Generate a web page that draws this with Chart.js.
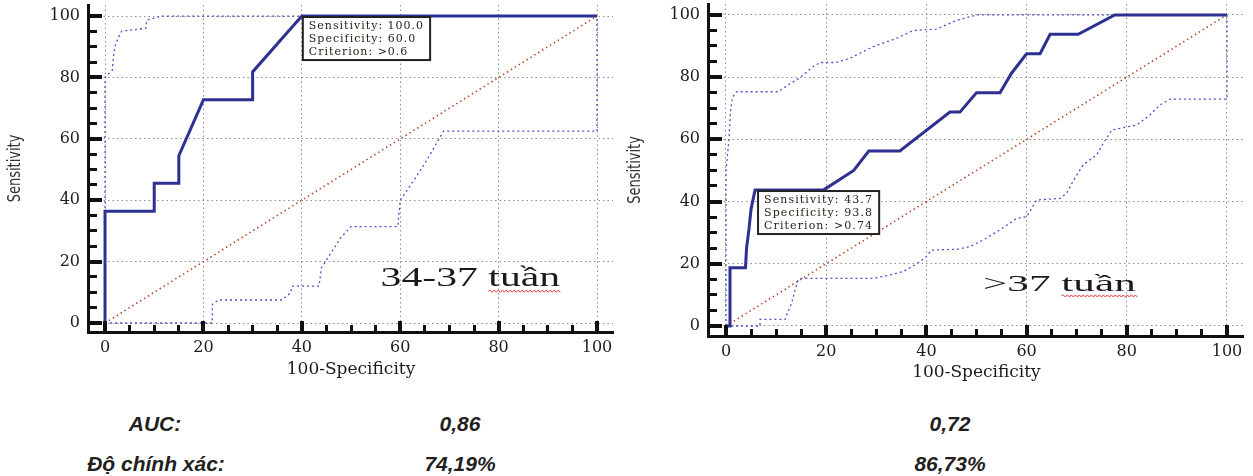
<!DOCTYPE html>
<html><head><meta charset="utf-8">
<script src="https://cdn.jsdelivr.net/npm/chart.js@4.4.1/dist/chart.umd.min.js"></script>
<style>
html,body{margin:0;padding:0;background:#fff;width:1253px;height:476px;overflow:hidden;}
canvas{position:absolute;top:0;}
#cA{left:0;}
#cB{left:620px;}
.t{position:absolute;font-family:"Liberation Sans",Arial,sans-serif;font-weight:bold;font-style:italic;font-size:21px;color:#231f20;transform:translateX(-50%);white-space:nowrap;line-height:20px;}
</style></head><body>
<canvas id="cA" width="620" height="390"></canvas>
<canvas id="cB" width="633" height="390"></canvas>
<div class="t" style="left:155px;top:414px">AUC:</div>
<div class="t" style="left:460px;top:414px">0,86</div>
<div class="t" style="left:950px;top:414px">0,72</div>
<div class="t" style="left:156px;top:454px">Độ chính xác:</div>
<div class="t" style="left:460px;top:454px">74,19%</div>
<div class="t" style="left:950px;top:454px">86,73%</div>
<script>
// ---------- shared axis data ----------
const X_TICKS = [0, 20, 40, 60, 80, 100];
const Y_TICKS = [0, 20, 40, 60, 80, 100];
const MINOR_TICKS = [5, 10, 15, 25, 30, 35, 45, 50, 55, 65, 70, 75, 85, 90, 95];
const X_TITLE = '100-Specificity';
const Y_TITLE = 'Sensitivity';
const diagX = [0, 100];
const diagY = [0, 100];

// ---------- panel A: 34-37 tuần ----------
const rocA_x = [0, 0, 10, 10, 15, 15, 20, 30, 30, 40, 100];
const rocA_y = [0, 36.4, 36.4, 45.5, 45.5, 54.5, 72.7, 72.7, 81.8, 100, 100];
const upA_x = [0, 0, 1.5, 1.6, 2.0, 2.7, 3.4, 8.3, 8.5, 11.5, 100];
const upA_y = [0, 80, 82.4, 84.9, 90, 93, 95.1, 96, 98.7, 100, 100];
const loA_x = [0, 21.8, 21.8, 23, 36, 37.7, 38, 43.5, 44, 45, 48, 50, 59.5, 60, 63, 65.4, 68.8, 100, 100];
const loA_y = [0, 0, 6, 7.5, 7.5, 9.8, 12, 12, 18, 20.5, 28, 31.4, 31.4, 40, 47, 53, 62.5, 62.5, 100];
const sensA = '100.0', specA = '60.0', critA = '>0.6';
const labelA = '34-37 tuần';

// ---------- panel B: >37 tuần ----------
const rocB_x = [0, 0.8, 0.8, 3.9, 4.1, 4.6, 5.0, 5.8, 19.5, 25.5, 28.5, 34.7, 44.7, 46.7, 50, 54.7, 57, 60, 62.7, 64.7, 70.3, 77.6, 100];
const rocB_y = [0, 0, 18.75, 18.75, 25, 31.25, 37.5, 43.75, 43.75, 50, 56.25, 56.25, 68.75, 68.75, 75, 75, 81.25, 87.5, 87.5, 93.75, 93.75, 100, 100];
const upB_x = [0, 0, 0.6, 0.9, 1.3, 2.1, 10.5, 11.1, 12.4, 14.6, 17.4, 18.8, 22, 24.8, 29.4, 34.1, 37.4, 42, 46, 50, 100];
const upB_y = [0, 50, 60, 69, 73.5, 75.3, 75.3, 76, 77.5, 79.6, 83.4, 84.7, 84.7, 86.1, 89.8, 92.5, 95, 95.4, 98.2, 100, 100];
const loB_x = [0, 6.8, 6.8, 11.8, 12.1, 13.1, 13.8, 14.4, 15, 29.4, 32.7, 35.4, 37.7, 39.7, 41, 46.4, 48.7, 51.4, 54.7, 58, 60, 62, 66.7, 68, 69.4, 71.3, 74, 75.3, 77, 82, 84.6, 86.6, 88.6, 100, 100];
const loB_y = [0, 0, 2.1, 2.1, 3.5, 7.3, 11.6, 14.8, 15.3, 15.3, 16.4, 17.5, 19.6, 21.8, 24.4, 24.7, 25.5, 27.7, 30.9, 34.6, 35.1, 40.5, 41, 42.7, 46.9, 51.8, 55, 58.7, 63, 64.6, 67.8, 71, 72.9, 72.9, 100];
const sensB = '43.7', specB = '93.8', critB = '>0.74';
const labelB = '>37 tuần';

function pts(xs, ys) { return xs.map((x, i) => ({ x: x, y: ys[i] })); }

const decor = {
  id: 'decor',
  afterDraw(chart, args, o) {
    const ctx = chart.ctx;
    const ca = chart.chartArea;
    const xs = chart.scales.x, ys = chart.scales.y;
    ctx.save();
    // inward tick marks: major and minor
    ctx.fillStyle = '#111';
    const tick = (v, major) => {
      const th = major ? 4 : 3;
      const lx = major ? 11 : 7, ly = major ? 14 : 9;
      ctx.fillRect(Math.round(xs.getPixelForValue(v) - th / 2), ca.bottom - lx, th, lx);
      ctx.fillRect(ca.left, Math.round(ys.getPixelForValue(v) - th / 2), ly, th);
    };
    X_TICKS.forEach(v => tick(v, true));
    MINOR_TICKS.forEach(v => tick(v, false));
    // axis titles
    ctx.fillStyle = '#1c1c1c';
    ctx.font = '17px "DejaVu Serif", serif';
    ctx.textAlign = 'center'; ctx.textBaseline = 'middle';
    ctx.fillText(X_TITLE, xs.getPixelForValue(50), ca.bottom + o.xTitleOff);
    ctx.save();
    ctx.translate(16, (ca.top + ca.bottom) / 2);
    ctx.rotate(-Math.PI / 2);
    ctx.font = '17px "Liberation Sans Narrow", "DejaVu Sans Condensed", "Liberation Sans", sans-serif';
    ctx.fillStyle = '#333';
    ctx.scale(0.85, 1);
    ctx.fillText(Y_TITLE, 0, 0);
    ctx.restore();
    // criterion box anchored at (100-specificity, sensitivity)
    const lines = ['Sensitivity: ' + o.sens, 'Specificity: ' + o.spec, 'Criterion: ' + o.crit];
    const bx = xs.getPixelForValue(100 - parseFloat(o.spec)) + 1;
    const by = ys.getPixelForValue(parseFloat(o.sens)) + 1;
    ctx.font = '11px "DejaVu Serif", serif';
    ctx.letterSpacing = o.boxSpacing + 'px';
    let w = 0;
    lines.forEach(l => { w = Math.max(w, ctx.measureText(l).width); });
    const bw = w + 12, bh = 43;
    ctx.fillStyle = '#fff';
    ctx.fillRect(bx, by, bw, bh);
    ctx.lineWidth = 2; ctx.strokeStyle = '#222';
    ctx.strokeRect(bx, by, bw, bh);
    ctx.fillStyle = '#2b2219';
    ctx.textAlign = 'left'; ctx.textBaseline = 'alphabetic';
    lines.forEach((l, i) => ctx.fillText(l, bx + 6, by + 12 + i * 13));
    ctx.letterSpacing = '0px';
    // big group label, stretched horizontally
    const lx = xs.getPixelForValue(o.labelAt[0]);
    const ly = ys.getPixelForValue(o.labelAt[1]);
    ctx.font = o.labelSize + 'px "Liberation Serif", "Times New Roman", serif';
    ctx.fillStyle = '#1a1a1a';
    const word = 'tuần';
    const prefix = o.label.slice(0, o.label.indexOf(word));
    const pw = ctx.measureText(prefix).width * o.labelScale;
    const ww = ctx.measureText(word).width * o.labelScale;
    ctx.save();
    ctx.translate(lx, ly);
    ctx.scale(o.labelScale, 1);
    ctx.fillText(o.label, 0, 0);
    ctx.restore();
    // spell-check squiggle
    ctx.strokeStyle = '#e23b3b'; ctx.lineWidth = 1;
    ctx.beginPath();
    const sy = ly + 5;
    let up = true;
    ctx.moveTo(lx + pw, sy);
    for (let x = lx + pw; x < lx + pw + ww; x += 2) { ctx.lineTo(x + 2, sy + (up ? -1.1 : 1.1)); up = !up; }
    ctx.stroke();
    ctx.restore();
  }
};

function zeroPad(s) { s.paddingTop = 0; s.paddingBottom = 0; s.paddingLeft = 0; s.paddingRight = 0; }

function makeChart(id, c) {
  const lineDs = (xs, ys, color, width, dash) => ({
    data: pts(xs, ys), showLine: true, borderColor: color, backgroundColor: color,
    borderWidth: width, borderDash: dash, pointRadius: 0, tension: 0, fill: false
  });
  const tickFont = { family: '"DejaVu Serif", serif', size: 16 };
  return new Chart(document.getElementById(id), {
    type: 'scatter',
    data: {
      datasets: [
        lineDs(c.rocX, c.rocY, '#2e3192', 3, []),
        lineDs(c.upX, c.upY, '#4b52c4', 1.3, [2, 3]),
        lineDs(c.loX, c.loY, '#4b52c4', 1.3, [2, 3]),
        lineDs(diagX, diagY, '#b3401f', 1.6, [1.4, 3.2])
      ]
    },
    options: {
      responsive: false, animation: false, events: [],
      layout: { padding: { top: c.padTop, right: c.padRight, left: 0, bottom: 0 } },
      scales: {
        x: {
          type: 'linear', position: 'bottom', min: c.xMin, max: c.xMax,
          afterFit: s => { s.height = c.xAxisH; zeroPad(s); },
          afterBuildTicks: s => { s.ticks = X_TICKS.map(v => ({ value: v })); },
          grid: { color: '#8f8f8f', lineWidth: 1, drawTicks: false },
          border: { display: true, color: '#111', width: 3, dash: [1.5, 3] },
          ticks: { padding: 6, font: tickFont, color: '#1c1c1c', maxRotation: 0, autoSkip: false }
        },
        y: {
          type: 'linear', position: 'left', min: c.yMin, max: c.yMax,
          afterFit: s => { s.width = 88; zeroPad(s); },
          afterBuildTicks: s => { s.ticks = Y_TICKS.map(v => ({ value: v })); },
          grid: { color: '#8f8f8f', lineWidth: 1, drawTicks: false },
          border: { display: true, color: '#111', width: 3, dash: [1.5, 3] },
          ticks: { padding: 8, font: tickFont, color: '#1c1c1c', autoSkip: false }
        }
      },
      plugins: {
        legend: { display: false }, tooltip: { enabled: false },
        decor: c.decor
      }
    },
    plugins: [decor]
  });
}

makeChart('cA', {
  rocX: rocA_x, rocY: rocA_y, upX: upA_x, upY: upA_y, loX: loA_x, loY: loA_y,
  xMin: -3.46, xMax: 103.25, yMin: -2.93, yMax: 103.6,
  padTop: 5, padRight: 7, xAxisH: 58,
  decor: { sens: sensA, spec: specA, crit: critA, boxSpacing: 1.0, label: labelA, labelAt: [56, 12], labelSize: 28, labelScale: 1.49, xTitleOff: 38 }
});
makeChart('cB', {
  rocX: rocB_x, rocY: rocB_y, upX: upB_x, upY: upB_y, loX: loB_x, loY: loB_y,
  xMin: -3.59, xMax: 103.2, yMin: -3.22, yMax: 103.5,
  padTop: 4, padRight: 10, xAxisH: 54,
  decor: { sens: sensB, spec: specB, crit: critB, boxSpacing: 1.1, label: labelB, labelAt: [51.3, 11.25], labelSize: 24, labelScale: 1.8, xTitleOff: 37 }
});
</script>
</body></html>
